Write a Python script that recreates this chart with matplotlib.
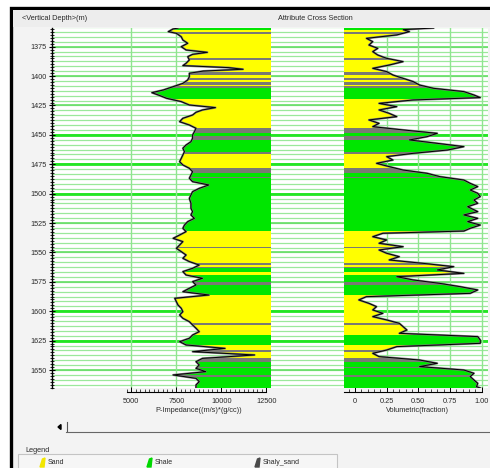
import numpy as np
import matplotlib.pyplot as plt
from matplotlib.patches import Rectangle, Polygon
from matplotlib.lines import Line2D
from matplotlib.ticker import MultipleLocator, FixedLocator

plt.rcParams["font.family"] = ["Liberation Sans", "DejaVu Sans"]

W, H = 490, 468
TOP, BASE = 1359.1, 1665.3

# facies column: layer boundaries (m) and facies code of each layer
facies_names = ["Sand", "Shale", "Shaly_sand"]
facies_colors = ["#ffff00", "#00e600", "#7a7a74"]
facies_bounds = [1359.1, 1360.5, 1362.5, 1364.5, 1385.0, 1386.5, 1396.3, 1399.0,
                 1401.5, 1403.0, 1405.0, 1407.6, 1408.5, 1410.4, 1419.5, 1444.4,
                 1448.0, 1451.0, 1454.4, 1464.3, 1466.0, 1478.4, 1482.7, 1485.6,
                 1486.9, 1531.8, 1545.1, 1546.5, 1559.2, 1561.0, 1562.0, 1563.5,
                 1566.4, 1569.2, 1574.9, 1577.7, 1586.2, 1610.3, 1611.7, 1620.2,
                 1628.7, 1633.0, 1634.4, 1640.0, 1642.9, 1647.2, 1648.5, 1654.2,
                 1655.7, 1665.3]
facies_code = [1, 0, 2, 0, 2, 0, 2, 0, 2, 0,
               2, 0, 2, 1, 0, 2, 1, 2, 1, 2,
               0, 2, 1, 2, 1, 0, 2, 0, 2, 0,
               2, 1, 0, 1, 2, 1, 0, 2, 0, 1,
               0, 2, 0, 2, 1, 2, 1, 2, 1]

# P-impedance log
imp_depth = [1359.1, 1359.9, 1362.2, 1363.6, 1366.5, 1369.3, 1372.1, 1375.0, 1377.8, 1379.8,
             1381.5, 1383.5, 1386.3, 1389.1, 1391.1, 1392.8, 1394.2, 1395.7, 1397.6, 1400.5,
             1403.3, 1406.2, 1409.0, 1411.8, 1414.1, 1416.1, 1418.9, 1421.7, 1424.6, 1426.8,
             1428.8, 1430.8, 1433.1, 1435.9, 1438.8, 1441.6, 1444.4, 1447.3, 1450.1, 1452.9,
             1455.8, 1458.6, 1461.4, 1464.3, 1467.1, 1470.0, 1472.8, 1475.6, 1478.4, 1481.3,
             1484.1, 1486.9, 1489.8, 1492.6, 1495.5, 1498.3, 1501.1, 1504.0, 1508.2, 1512.5,
             1515.3, 1518.1, 1521.0, 1523.8, 1526.7, 1529.5, 1532.3, 1535.2, 1538.0, 1540.8,
             1543.7, 1546.5, 1549.3, 1552.2, 1555.0, 1557.8, 1560.7, 1563.5, 1566.3, 1569.2,
             1572.0, 1574.8, 1577.7, 1580.5, 1583.4, 1586.2, 1589.0, 1591.9, 1594.7, 1597.5,
             1600.4, 1603.2, 1606.0, 1608.9, 1611.7, 1614.5, 1617.4, 1620.2, 1623.0, 1625.9,
             1628.7, 1631.6, 1634.4, 1637.2, 1640.1, 1642.9, 1645.7, 1648.6, 1651.4, 1654.2,
             1657.1, 1659.9, 1662.7, 1665.3]
imp_value = [7600, 7320, 7050, 7500, 7770, 7860, 8130, 7770, 8040, 9220,
             8400, 8130, 8220, 8040, 7860, 10400, 11200, 9000, 8220, 8220,
             8130, 7860, 7320, 6780, 6140, 6500, 6960, 7770, 8220, 9670,
             8950, 8590, 8400, 7860, 7680, 8220, 8590, 8500, 8400, 8400,
             8310, 8040, 7860, 7950, 7860, 7770, 7680, 7860, 8220, 8400,
             8310, 8220, 8400, 9300, 8770, 8400, 8310, 8220, 8310, 8310,
             8400, 8310, 8500, 8130, 7950, 7860, 8040, 7680, 7320, 7860,
             7680, 7500, 7770, 8040, 7860, 8220, 8770, 8400, 7860, 8040,
             8950, 8400, 8590, 8220, 7860, 9310, 7410, 7500, 7590, 7770,
             7860, 7680, 7860, 8220, 8400, 8590, 8770, 8400, 8220, 7680,
             8040, 10200, 8400, 11840, 8950, 8590, 8770, 8590, 9130, 7320,
             8590, 8770, 8590, 8590]

# volumetric fraction log
vol_depth = [1359.1, 1360.5, 1362.2, 1365.0, 1367.9, 1370.7, 1373.6, 1376.4, 1379.2, 1382.1,
             1384.9, 1387.7, 1390.6, 1393.4, 1396.2, 1399.1, 1401.9, 1404.7, 1407.6, 1410.4,
             1413.2, 1416.1, 1418.3, 1420.3, 1423.2, 1426.0, 1428.8, 1431.7, 1434.5, 1437.3,
             1440.2, 1443.0, 1445.8, 1448.7, 1451.5, 1454.3, 1457.2, 1460.0, 1462.9, 1465.7,
             1468.5, 1471.4, 1474.2, 1477.0, 1479.9, 1482.7, 1485.5, 1488.4, 1491.2, 1494.0,
             1496.9, 1499.7, 1502.5, 1505.4, 1508.2, 1511.1, 1515.3, 1518.1, 1521.0, 1523.8,
             1526.7, 1529.5, 1531.8, 1533.7, 1536.6, 1539.4, 1542.2, 1545.1, 1547.9, 1550.7,
             1553.6, 1556.4, 1559.3, 1562.1, 1564.9, 1567.8, 1570.6, 1573.4, 1576.3, 1579.1,
             1581.9, 1584.8, 1587.6, 1590.4, 1593.3, 1596.1, 1598.9, 1601.8, 1604.6, 1607.4,
             1610.3, 1613.1, 1616.0, 1618.8, 1621.6, 1624.5, 1627.3, 1630.1, 1633.0, 1635.8,
             1638.6, 1641.5, 1644.3, 1647.1, 1650.0, 1652.8, 1655.6, 1658.5, 1661.3, 1664.2,
             1665.3]
vol_value = [0.62, 0.38, 0.43, 0.33, 0.09, 0.14, 0.11, 0.18, 0.14, 0.18,
             0.25, 0.38, 0.27, 0.14, 0.25, 0.30, 0.38, 0.46, 0.51, 0.62,
             0.86, 0.94, 0.99, 0.46, 0.19, 0.33, 0.19, 0.27, 0.33, 0.11,
             0.19, 0.14, 0.38, 0.65, 0.57, 0.43, 0.65, 0.86, 0.73, 0.46,
             0.25, 0.30, 0.17, 0.27, 0.38, 0.57, 0.67, 0.86, 0.91, 0.97,
             0.91, 0.97, 0.99, 0.94, 0.97, 0.89, 0.97, 0.86, 0.97, 0.89,
             0.99, 0.91, 0.86, 0.22, 0.14, 0.25, 0.19, 0.38, 0.19, 0.25,
             0.35, 0.27, 0.54, 0.78, 0.65, 0.86, 0.33, 0.46, 0.67, 0.83,
             0.97, 0.91, 0.09, 0.03, 0.11, 0.17, 0.14, 0.22, 0.14, 0.25,
             0.35, 0.38, 0.41, 0.35, 0.97, 0.99, 0.99, 0.33, 0.25, 0.14,
             0.19, 0.51, 0.65, 0.51, 0.86, 0.94, 0.91, 0.94, 0.97, 0.96,
             0.99]

depth_ticks = [1375, 1400, 1425, 1450, 1475, 1500, 1525, 1550, 1575, 1600, 1625, 1650]
bright_lines = [1450, 1475, 1500, 1600, 1625]
imp_ticks = [5000, 7500, 10000, 12500]
vol_ticks = [0, 0.25, 0.5, 0.75, 1.0]
vol_labels = ["0", "0.25", "0.50", "0.75", "1.00"]

IMP_LIM = (600, 12750)
VOL_LIM = (-0.087, 1.051)
TXT = "#2a2a2a"


def px_rect(x0, y0, x1, y1):
    return [x0 / W, 1 - y1 / H, (x1 - x0) / W, (y1 - y0) / H]


def fig_xy(x, y):
    return x / W, 1 - y / H


fig = plt.figure(figsize=(W / 100, H / 100), dpi=100, facecolor="white")

# window frame and header strip
fig.add_artist(Rectangle(fig_xy(11, H + 20), (W + 20) / W, (H + 12) / H,
                         transform=fig.transFigure, facecolor="#f3f3f3",
                         edgecolor="black", linewidth=2.4, zorder=-2))
fig.add_artist(Rectangle(fig_xy(12.5, 27), (W - 12) / W, 17 / H,
                         transform=fig.transFigure, facecolor="#ededed",
                         edgecolor="none", zorder=-1))
fig.text(*fig_xy(22, 18), "<Vertical Depth>(m)", fontsize=5.3, color=TXT, va="center")
fig.text(*fig_xy(278, 18), "Attribute Cross Section", fontsize=5.3, color=TXT, va="center")

# depth grid behind both tracks
bg = fig.add_axes(px_rect(52, 28, 488, 388))
bg.set_facecolor("white")
bg.set_xlim(0, 1)
bg.set_ylim(BASE, TOP)
minor_lines = np.arange(1375 - 4 * 25 / 6, BASE, 25 / 6)
bg.hlines(minor_lines, 0, 1, color="#9be89b", linewidth=0.9, zorder=1)
bg.hlines(depth_ticks, 0, 1, color="#66de66", linewidth=1.2, zorder=1)
bg.hlines(bright_lines, 0, 1, color="#22e622", linewidth=2.0, zorder=1)
for s in ["top", "right", "bottom"]:
    bg.spines[s].set_visible(False)
bg.spines["left"].set_linewidth(1.0)
bg.set_xticks([])
bg.set_yticks(depth_ticks)
bg.yaxis.set_minor_locator(MultipleLocator(2.5))
bg.tick_params(axis="y", which="major", direction="inout", length=5, width=0.8,
               labelsize=5.2, labelcolor=TXT, pad=1.5)
bg.tick_params(axis="y", which="minor", direction="inout", length=3, width=0.6)


def facies_track(ax, log_value, log_depth, edge):
    # facies bands, clipped to the area between the log and the track edge
    verts = [(edge, log_depth[0])] + list(zip(log_value, log_depth)) + [(edge, log_depth[-1])]
    clip = Polygon(verts, closed=True, transform=ax.transData)
    bounds = np.array(facies_bounds)
    x0, x1 = ax.get_xlim()
    bars = ax.barh((bounds[:-1] + bounds[1:]) / 2, x1 - x0, height=np.diff(bounds),
                   left=x0, color=[facies_colors[c] for c in facies_code],
                   linewidth=0, zorder=2)
    for b in bars:
        b.set_clip_path(clip)
    ax.plot(log_value, log_depth, color="#7a7a7a", linewidth=1.5, zorder=3)
    ax.plot(log_value, log_depth, color="black", linewidth=0.7, zorder=4)


def style_track(ax, ticks, labels, minor, lo, hi):
    ax.set_facecolor("none")
    for s in ["top", "right", "left"]:
        ax.spines[s].set_visible(False)
    ax.spines["bottom"].set_position(("outward", 3))
    ax.spines["bottom"].set_bounds(lo, hi)
    ax.spines["bottom"].set_linewidth(0.8)
    ax.set_yticks([])
    ax.set_xticks(ticks)
    ax.set_xticklabels(labels)
    ax.xaxis.set_minor_locator(FixedLocator(minor))
    ax.tick_params(axis="x", which="major", direction="in", length=3.5, width=0.7,
                   labelsize=5.3, labelcolor=TXT, pad=4)
    ax.tick_params(axis="x", which="minor", direction="in", length=2, width=0.5)


# P-impedance track
ax1 = fig.add_axes(px_rect(52, 28, 271, 388))
ax1.set_xlim(*IMP_LIM)
ax1.set_ylim(BASE, TOP)
for v in [5000, 7500]:
    ax1.axvline(v, color="#8fe58f", linewidth=1.0, zorder=1)
facies_track(ax1, imp_value, imp_depth, IMP_LIM[1])
style_track(ax1, imp_ticks, [str(t) for t in imp_ticks],
            np.arange(4750, 12501, 250), 4750, 12500)
fig.text(*fig_xy(199, 411), "P-Impedance((m/s)*(g/cc))", fontsize=5.3,
         color=TXT, ha="center", va="center")

# volumetric track
ax2 = fig.add_axes(px_rect(344, 28, 488, 388))
ax2.set_xlim(*VOL_LIM)
ax2.set_ylim(BASE, TOP)
for v in vol_ticks[1:]:
    ax2.axvline(v, color="#8fe58f", linewidth=1.0, zorder=1)
facies_track(ax2, vol_value, vol_depth, VOL_LIM[0])
style_track(ax2, vol_ticks, vol_labels, np.arange(-0.05, 1.001, 0.05), VOL_LIM[0], 1.0)
fig.text(*fig_xy(417, 411), "Volumetric(fraction)", fontsize=5.3,
         color=TXT, ha="center", va="center")

# horizontal scroll bar
fig.add_artist(Polygon([fig_xy(58, 427), fig_xy(61, 424.5), fig_xy(61, 429.5)],
                       closed=True, transform=fig.transFigure, color="black"))
fig.add_artist(Line2D([66.5 / W, 66.5 / W], [1 - 422 / H, 1 - 431 / H],
                      transform=fig.transFigure, color="#555555", linewidth=0.8))
fig.add_artist(Line2D([66 / W, 1.0], [1 - 431.5 / H, 1 - 431.5 / H],
                      transform=fig.transFigure, color="#666666", linewidth=0.8))

# legend panel
fig.text(*fig_xy(25, 451), "Legend", fontsize=5.3, color=TXT, va="center")
fig.add_artist(Rectangle(fig_xy(18, H + 5), 319 / W, (H + 5 - 454) / H,
                         transform=fig.transFigure, facecolor="#f6f6f6",
                         edgecolor="#c4c4c4", linewidth=0.8))
for name, col, ix in zip(facies_names, ["#f2e600", "#00d800", "#4a4a4a"], [40, 147, 255]):
    fig.add_artist(Polygon([fig_xy(ix, 467), fig_xy(ix + 2.5, 459), fig_xy(ix + 5, 458),
                            fig_xy(ix + 4, 467)], closed=True,
                           transform=fig.transFigure, color=col))
    fig.text(*fig_xy(ix + 8, 462.5), name, fontsize=5, color=TXT, va="center")

fig.savefig("out.png", dpi=100)
